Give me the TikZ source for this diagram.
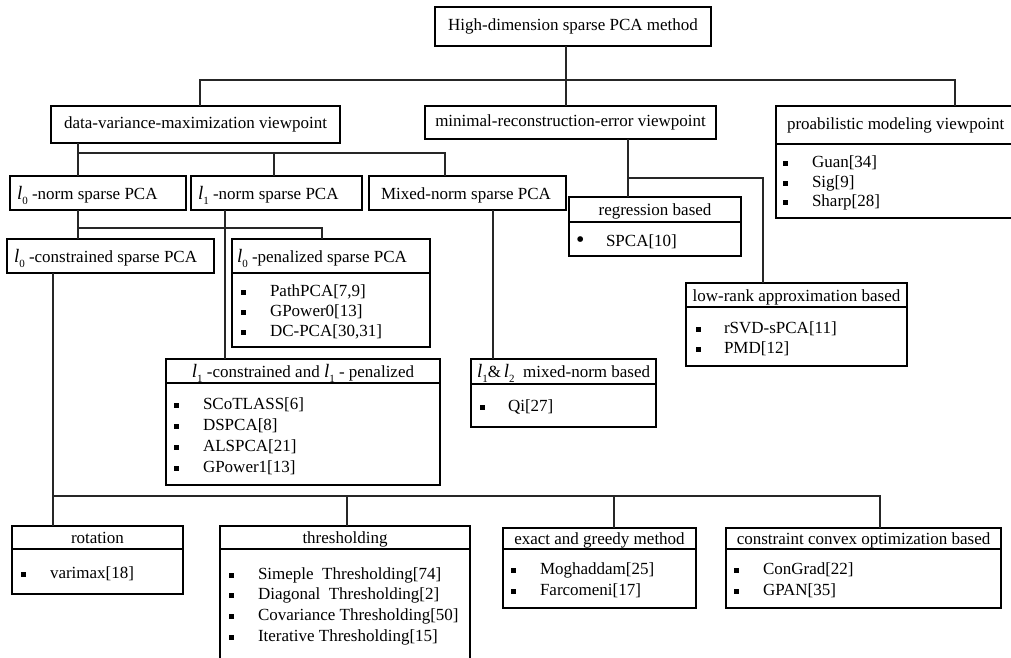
\documentclass[tikz,border=0pt]{standalone}
\usepackage{fontspec}
\setmainfont{Liberation Serif}
\newcommand{\lsub}[1]{{\fontsize{19}{20}\selectfont\textit{l}}\raisebox{-0.3em}{\fontsize{11}{11}\selectfont #1}}
\newcommand{\sqb}{\rule[1.5pt]{5pt}{5pt}}
\newcommand{\rdb}{{\fontsize{24}{20}\selectfont\textbullet}}
\newcommand{\mybox}[5]{\node[box, anchor=north west, minimum width=#3-#1, minimum height=#4-#2] (#5) at (#1,#2) {};}
\begin{document}
\begin{tikzpicture}[x=1pt,y=-1pt,
  every node/.style={font=\fontsize{17}{20}\selectfont, inner sep=0pt, outer sep=0pt},
  box/.style={draw, line width=1.4pt},
  conn/.style={draw=black!85, line width=1.2pt},
  item/.style={anchor=base west},
  bul/.style={anchor=base west},
]
\useasboundingbox (0,0) rectangle (1011,657);
\fill[white] (0,0) rectangle (1011,657);

% ---- boxes ----
\mybox{435}{7}{711}{46}{root}
\node (rootT) at (573,26.5) {High-dimension sparse PCA method};

\mybox{51}{106}{340}{143}{dv}
\node (dvT) at (195.5,124.5) {data-variance-maximization viewpoint};

\mybox{425}{106}{716}{139}{mr}
\node (mrT) at (570.5,122.5) {minimal-reconstruction-error viewpoint};

\mybox{776}{106}{1020}{218}{prob}
\draw[box] (prob.west |- 0,144) -- (prob.east |- 0,144);
\node[anchor=base west] (probT) at (787,129) {proabilistic modeling viewpoint};
\node[bul] (pb1) at (783,167) {\sqb};\node[item] (pi1) at (812,167) {Guan[34]};
\node[bul] (pb2) at (783,187) {\sqb};\node[item] (pi2) at (812,187) {Sig[9]};
\node[bul] (pb3) at (783,206) {\sqb};\node[item] (pi3) at (812,206) {Sharp[28]};

\mybox{10}{176}{186}{210}{lzn}
\node[anchor=base west] (lznT) at (17,199) {\lsub{0} -norm sparse PCA};
\mybox{191}{176}{362}{210}{lon}
\node[anchor=base west] (lonT) at (198,199) {\lsub{1} -norm sparse PCA};
\mybox{369}{176}{566}{210}{mix}
\node[anchor=base west] (mixT) at (381,199) {Mixed-norm sparse PCA};

\mybox{569}{197}{741}{256}{reg}
\draw[box] (reg.west |- 0,222) -- (reg.east |- 0,222);
\node[anchor=base] (regT) at (655,215) {regression based};
\node[bul] (rb1) at (576,247) {\rdb};\node[item] (ri1) at (606,246) {SPCA[10]};

\mybox{686}{283}{907}{366}{lr}
\draw[box] (lr.west |- 0,307) -- (lr.east |- 0,307);
\node[anchor=base] (lrT) at (796.5,301) {low-rank approximation based};
\node[bul] (lb1) at (696,333) {\sqb};\node[item] (li1) at (724,333) {rSVD-sPCA[11]};
\node[bul] (lb2) at (696,353) {\sqb};\node[item] (li2) at (724,353) {PMD[12]};

\mybox{7}{239}{214}{273}{lzc}
\node[anchor=base west] (lzcT) at (14,262) {\lsub{0} -constrained sparse PCA};

\mybox{232}{239}{430}{347}{lzp}
\draw[box] (lzp.west |- 0,273) -- (lzp.east |- 0,273);
\node[anchor=base west] (lzpT) at (237,262) {\lsub{0} -penalized sparse PCA};
\node[bul] (zb1) at (241,296) {\sqb};\node[item] (zi1) at (270,296) {PathPCA[7,9]};
\node[bul] (zb2) at (241,316) {\sqb};\node[item] (zi2) at (270,316) {GPower0[13]};
\node[bul] (zb3) at (241,336) {\sqb};\node[item] (zi3) at (270,336) {DC-PCA[30,31]};

\mybox{166}{359}{440}{485}{lob}
\draw[box] (lob.west |- 0,383) -- (lob.east |- 0,383);
\node[anchor=base] (lobT) at (303,377) {\lsub{1} -constrained and \lsub{1} - penalized};
\node[bul] (ob1) at (174,409) {\sqb};\node[item] (oi1) at (203,409) {SCoTLASS[6]};
\node[bul] (ob2) at (174,430) {\sqb};\node[item] (oi2) at (203,430) {DSPCA[8]};
\node[bul] (ob3) at (174,451) {\sqb};\node[item] (oi3) at (203,451) {ALSPCA[21]};
\node[bul] (ob4) at (174,472) {\sqb};\node[item] (oi4) at (203,472) {GPower1[13]};

\mybox{471}{359}{656}{427}{ltt}
\draw[box] (ltt.west |- 0,384) -- (ltt.east |- 0,384);
\node[anchor=base west] (lttT) at (477,377) {\lsub{1}\&\,\lsub{2}\ \ mixed-norm based};
\node[bul] (tb1) at (480,411) {\sqb};\node[item] (ti1) at (508,411) {Qi[27]};

\mybox{12}{526}{183}{594}{rot}
\draw[box] (rot.west |- 0,549) -- (rot.east |- 0,549);
\node[anchor=base] (rotT) at (97.5,543) {rotation};
\node[bul] (ab1) at (21,578) {\sqb};\node[item] (ai1) at (50,578) {varimax[18]};

\mybox{220}{526}{470}{668}{thr}
\draw[box] (thr.west |- 0,549) -- (thr.east |- 0,549);
\node[anchor=base] (thrT) at (345,543) {thresholding};
\node[bul] (hb1) at (229,579) {\sqb};\node[item] (hi1) at (258,579) {Simeple\ \ Thresholding[74]};
\node[bul] (hb2) at (229,599) {\sqb};\node[item] (hi2) at (258,599) {Diagonal\ \ Thresholding[2]};
\node[bul] (hb3) at (229,620) {\sqb};\node[item] (hi3) at (258,620) {Covariance Thresholding[50]};
\node[bul] (hb4) at (229,641) {\sqb};\node[item] (hi4) at (258,641) {Iterative Thresholding[15]};

\mybox{503}{528}{696}{608}{exa}
\draw[box] (exa.west |- 0,549) -- (exa.east |- 0,549);
\node[anchor=base] (exaT) at (599.5,544) {exact and greedy method};
\node[bul] (eb1) at (511,574) {\sqb};\node[item] (ei1) at (540,574) {Moghaddam[25]};
\node[bul] (eb2) at (511,595) {\sqb};\node[item] (ei2) at (540,595) {Farcomeni[17]};

\mybox{726}{528}{1001}{608}{con}
\draw[box] (con.west |- 0,549) -- (con.east |- 0,549);
\node[anchor=base] (conT) at (863.5,544) {constraint convex optimization based};
\node[bul] (cb1) at (734,574) {\sqb};\node[item] (ci1) at (763,574) {ConGrad[22]};
\node[bul] (cb2) at (734,595) {\sqb};\node[item] (ci2) at (763,595) {GPAN[35]};

% ---- connectors ----
\coordinate (j1) at (566,80);
\draw[conn] (root.south -| j1) -- (j1);
\draw[conn] (dv.north -| 200,0) -- (200,80) -- (955,80) -- (prob.north -| 955,0);
\draw[conn] (j1) -- (mr.north -| j1);

\coordinate (j2) at (78,153);
\draw[conn] (dv.south -| j2) -- (j2) -- (lzn.north -| j2);
\draw[conn] (j2) -- (445,153) -- (mix.north -| 445,0);
\draw[conn] (274,153) -- (lon.north -| 274,0);

\coordinate (j3) at (78,228);
\draw[conn] (lzn.south -| j3) -- (j3) -- (lzc.north -| j3);
\draw[conn] (j3) -- (322,228) -- (lzp.north -| 322,0);

\draw[conn] (lon.south -| 225,0) -- (lob.north -| 225,0);
\draw[conn] (mix.south -| 493,0) -- (ltt.north -| 493,0);

\coordinate (j4) at (628,178);
\draw[conn] (mr.south -| j4) -- (j4) -- (reg.north -| j4);
\draw[conn] (j4) -- (763,178) -- (lr.north -| 763,0);

\coordinate (j5) at (53,496);
\draw[conn] (lzc.south -| j5) -- (j5) -- (rot.north -| j5);
\draw[conn] (j5) -- (880,496) -- (con.north -| 880,0);
\draw[conn] (347,496) -- (thr.north -| 347,0);
\draw[conn] (614,496) -- (exa.north -| 614,0);
\end{tikzpicture}
\end{document}
